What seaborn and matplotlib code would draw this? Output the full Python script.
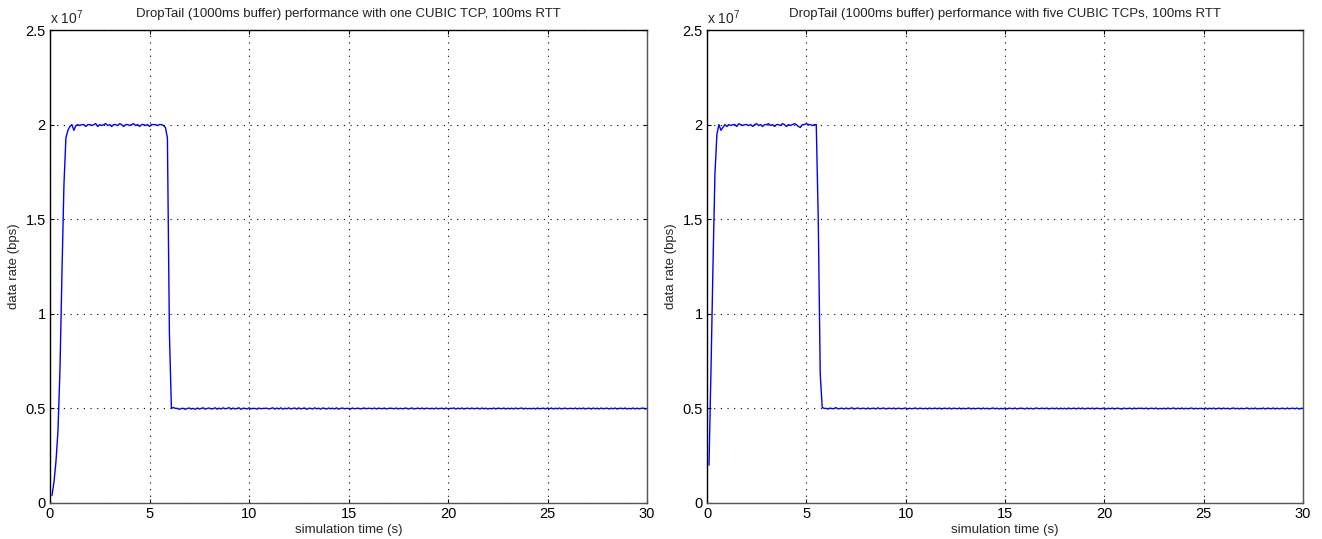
import numpy as np
import pandas as pd
import matplotlib
matplotlib.use("Agg")
import matplotlib.pyplot as plt
import seaborn as sns

# Throughput samples every 0.1 s, in Mbps (first sample empty: no data at t=0)
SAMPLE_INTERVAL_S = 0.1

rate_one_cubic_mbps = [
    np.nan, 0.4, 1.1, 2.2, 3.8, 7.0, 12.1, 16.8, 19.3, 19.7, 19.9,
    20.0, 19.7, 19.95, 20.0, 19.95, 20.0, 20.0, 19.9, 20.0, 20.0,
    19.95, 20.0, 20.05, 19.9, 20.0, 19.95, 20.0, 20.05, 19.95, 20.0,
    19.9, 20.0, 20.0, 19.95, 20.05, 20.0, 19.9, 20.0, 20.0, 19.95,
    20.0, 20.05, 19.95, 20.0, 19.9, 20.0, 20.0, 19.95, 20.0, 19.9,
    20.0, 20.0, 20.0, 19.95, 20.0, 20.0, 19.95,
    19.85, 19.3, 9.0, 5.0,
    5.05, 5.0, 5.0, 4.95, 5.0, 5.0, 4.95, 5.0, 5.02, 4.97,
    5.0, 4.95, 5.02, 4.97, 5.0, 5.03, 4.96, 5.0, 5.02, 4.97,
    4.99, 5.03, 4.96, 5.01, 4.97, 5.03, 4.98, 5.0, 5.04, 4.96,
    5.02, 4.97, 5.0, 5.03, 4.95, 5.01, 5.0, 4.97, 5.03, 4.98,
    5.0, 5.0, 4.96, 5.02, 4.98, 5.0, 5.0, 5.01, 4.97, 5.0,
    5.03, 4.96, 5.02, 4.97, 5.03, 4.96, 5.01, 4.98, 5.03, 4.97,
    5.0, 5.02, 4.96, 5.03, 4.97, 5.0, 5.02, 4.95, 5.01, 5.0,
    4.97, 5.03, 4.98, 5.01, 4.96, 5.02, 5.0, 4.97, 5.02, 4.98,
    5.01, 4.97, 5.03, 4.96, 5.0, 5.02, 4.98, 5.0, 5.0, 4.97,
    5.02, 4.98, 5.0, 5.01, 4.97, 5.0, 5.02, 4.98, 5.01, 5.0,
    4.98, 5.02, 4.97, 5.01, 5.0, 4.98, 5.02, 4.97, 5.0, 5.01,
    5.0, 4.98, 5.02, 4.97, 5.01, 4.98, 5.0, 5.02, 4.97, 5.0,
    5.02, 4.97, 5.0, 5.01, 4.98, 5.02, 4.97, 5.01, 5.0, 4.98,
    5.01, 4.97, 5.02, 4.98, 5.0, 5.01, 4.97, 5.02, 4.98, 5.0,
    5.0, 5.02, 4.97, 5.01, 4.98, 5.02, 4.97, 5.0, 5.01, 4.98,
    5.02, 4.98, 5.0, 5.01, 4.97, 5.02, 4.98, 5.01, 4.97, 5.0,
    4.98, 5.02, 4.97, 5.01, 5.0, 4.98, 5.02, 4.97, 5.01, 4.98,
    5.01, 4.97, 5.02, 4.98, 5.0, 5.02, 4.97, 5.01, 4.98, 5.0,
    4.98, 5.01, 4.97, 5.02, 4.98, 5.0, 5.01, 4.97, 5.02, 4.98,
    5.02, 4.97, 5.01, 4.98, 5.02, 4.97, 5.0, 5.01, 4.98, 5.0,
    5.0, 4.98, 5.02, 4.97, 5.01, 4.98, 5.02, 4.97, 5.0, 5.01,
    4.97, 5.02, 4.98, 5.01, 4.97, 5.02, 4.98, 5.0, 5.01, 4.97,
    5.01, 4.98, 5.02, 4.97, 5.0, 5.01, 4.98, 5.02, 4.97,
    5.0, 4.98, 5.02, 4.97, 5.01, 4.98, 5.0, 5.02, 4.97, 5.0,
    5.01,
]

rate_five_cubic_mbps = [
    np.nan, 2.0, 7.0, 12.5, 17.4, 19.5, 20.0, 19.7, 19.85, 20.0, 19.9,
    20.0, 19.95, 20.0, 20.0, 19.9, 20.05, 20.0, 19.95, 20.0, 20.0,
    19.95, 20.0, 19.9, 20.0, 20.05, 19.95, 20.0, 19.9, 20.0, 20.0,
    20.05, 19.95, 20.0, 19.9, 20.0, 20.0, 19.95, 20.05, 20.0, 19.9,
    20.0, 19.95, 20.0, 20.05, 20.0, 19.9, 19.85, 20.0, 20.0, 20.05,
    20.0, 20.0, 19.95, 20.0, 20.0,
    15.0, 6.8, 5.05,
    5.0, 5.0, 4.97, 5.02, 4.98, 5.0, 5.04, 4.97, 5.0, 5.01,
    4.97, 5.02, 4.98, 5.0, 5.03, 4.97, 5.0, 5.02, 4.98, 5.0,
    5.01, 4.97, 5.02, 4.98, 5.0, 5.01, 4.97, 5.03, 4.98, 5.0,
    5.02, 4.97, 5.0, 5.01, 4.98, 5.02, 4.97, 5.01, 5.0, 4.98,
    5.0, 5.02, 4.97, 5.01, 4.98, 5.0, 5.02, 4.97, 5.01, 5.0,
    4.98, 5.01, 4.97, 5.02, 4.98, 5.0, 5.01, 4.98, 5.02, 4.97,
    5.0, 5.01, 4.98, 5.02, 4.97, 5.01, 5.0, 4.98, 5.02, 4.97,
    5.01, 4.98, 5.0, 5.02, 4.97, 5.01, 4.98, 5.0, 5.01, 4.97,
    5.02, 4.98, 5.01, 4.97, 5.0, 5.02, 4.98, 5.01, 4.97, 5.0,
    4.98, 5.02, 4.97, 5.01, 5.0, 4.98, 5.02, 4.97, 5.0, 5.01,
    5.0, 4.97, 5.02, 4.98, 5.01, 4.97, 5.0, 5.02, 4.98, 5.0,
    5.01, 4.98, 5.02, 4.97, 5.0, 5.01, 4.98, 5.02, 4.97, 5.01,
    4.98, 5.01, 4.97, 5.02, 4.98, 5.0, 5.01, 4.97, 5.02, 4.98,
    5.02, 4.97, 5.0, 5.01, 4.98, 5.02, 4.97, 5.01, 5.0, 4.98,
    5.0, 5.02, 4.97, 5.01, 4.98, 5.02, 4.97, 5.0, 5.01, 4.98,
    4.97, 5.02, 4.98, 5.0, 5.01, 4.97, 5.02, 4.98, 5.01, 5.0,
    5.01, 4.98, 5.02, 4.97, 5.0, 5.01, 4.98, 5.02, 4.97, 5.0,
    4.98, 5.01, 4.97, 5.02, 4.98, 5.0, 5.02, 4.97, 5.01, 4.98,
    5.02, 4.97, 5.01, 4.98, 5.0, 5.02, 4.97, 5.01, 4.98, 5.0,
    5.0, 4.98, 5.02, 4.97, 5.01, 4.98, 5.02, 4.97, 5.0, 5.01,
    4.97, 5.02, 4.98, 5.01, 4.97, 5.0, 5.02, 4.98, 5.01, 4.97,
    5.01, 4.98, 5.0, 5.02, 4.97, 5.01, 4.98, 5.02, 4.97, 5.0,
    4.98, 5.02, 4.97, 5.01, 5.0, 4.98, 5.02, 4.97, 5.01, 4.98,
    5.0, 5.01, 4.97, 5.02, 4.98, 5.0, 5.01, 4.98, 5.02, 4.97,
    5.0, 5.0,
]

titles = [
    "DropTail (1000ms buffer) performance with one CUBIC TCP, 100ms RTT",
    "DropTail (1000ms buffer) performance with five CUBIC TCPs, 100ms RTT",
]
x_ticks = [0, 5, 10, 15, 20, 25, 30]
y_ticks_1e7 = [0, 0.5, 1, 1.5, 2, 2.5]
y_tick_labels = ["0", "0.5", "1", "1.5", "2", "2.5"]


def make_frame(rates_mbps):
    rates = np.asarray(rates_mbps, dtype=float)
    t = np.arange(len(rates)) * SAMPLE_INTERVAL_S
    return pd.DataFrame({"time_s": t, "rate_bps": rates * 1e6})


sns.set_theme(style="white")
plt.rcParams["font.family"] = ["Liberation Sans", "DejaVu Sans"]
plt.rcParams["mathtext.fontset"] = "custom"
plt.rcParams["mathtext.rm"] = "Liberation Sans"

fig = plt.figure(figsize=(13.22, 5.39), dpi=100)
fig.patch.set_facecolor("white")
axes = [
    fig.add_axes([50 / 1322, 36 / 539, 597 / 1322, 473 / 539]),
    fig.add_axes([707 / 1322, 36 / 539, 596 / 1322, 473 / 539]),
]

for ax, rates, title in zip(axes, [rate_one_cubic_mbps, rate_five_cubic_mbps], titles):
    df = make_frame(rates)
    sns.lineplot(data=df, x="time_s", y="rate_bps", ax=ax, color="#0000ff",
                 linewidth=1.0, zorder=3)
    ax.set_xlim(0, 30)
    ax.set_ylim(0, 2.5e7)
    ax.set_xticks(x_ticks)
    ax.set_xticklabels([str(v) for v in x_ticks])
    ax.set_yticks([v * 1e7 for v in y_ticks_1e7])
    ax.set_yticklabels(y_tick_labels)
    ax.grid(True, color="black", linestyle=(0, (1, 5)), linewidth=0.8)
    ax.tick_params(direction="in", length=3, width=0.8, top=True, right=True,
                   bottom=True, left=True, labelsize=10.5, colors="black", pad=3)
    ax.spines["left"].set_color("black")
    ax.spines["top"].set_color("black")
    ax.spines["bottom"].set_color("#555555")
    ax.spines["right"].set_color("#555555")
    for s in ax.spines.values():
        s.set_linewidth(1.0)
    ax.set_title(title, fontsize=9.5, pad=9, color="#222222")
    ax.set_xlabel("simulation time (s)", fontsize=9.5, labelpad=2)
    ax.set_ylabel("data rate (bps)", fontsize=9.5, labelpad=4)
    ax.text(0.0, 1.006, r"x 10$^{7}$", transform=ax.transAxes, ha="left",
            va="bottom", fontsize=10)

fig.savefig("out.png", dpi=100, facecolor="white")
